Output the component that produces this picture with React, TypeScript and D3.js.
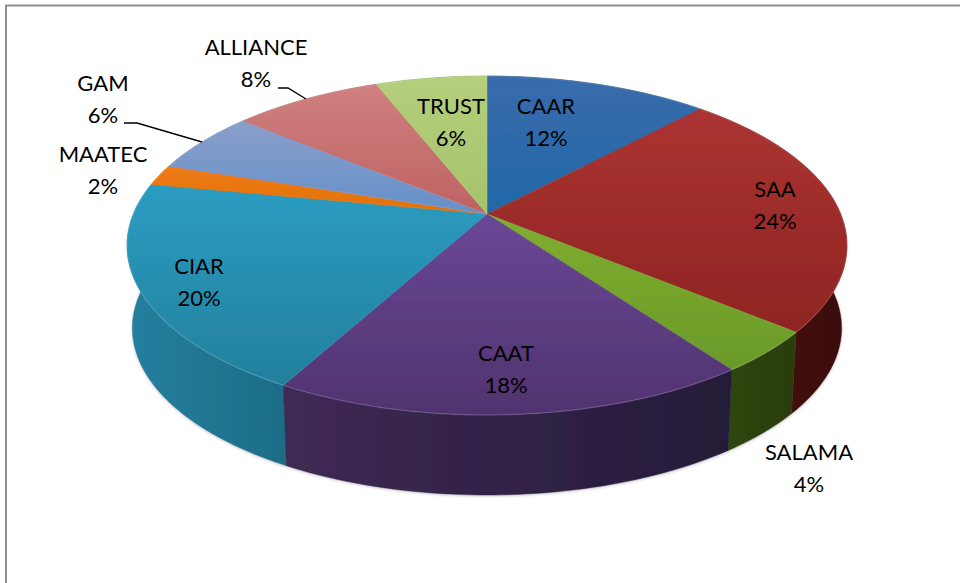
import React from "react";
import * as d3 from "d3";

const names = ["CAAR", "SAA", "SALAMA", "CAAT", "CIAR", "MAATEC", "GAM", "ALLIANCE", "TRUST"];
const shares = [12, 24, 4, 18, 20, 2, 6, 8, 6];
const topLight = ["#3a6cab", "#ab3431", "#7fae30", "#6b4796", "#2b9cc2", "#f07c12", "#8a9fcb", "#d08080", "#b5cf7c"];
const topDark = ["#2068a8", "#8e2422", "#6a9a28", "#50336f", "#23809c", "#e07010", "#6490c8", "#be6262", "#a5c36b"];
const wallLight = ["#1f4a78", "#4e110d", "#2f4610", "#3f2a55", "#24809f", "#b05a0c", "#4d6c9c", "#8c4242", "#7a9244"];
const wallDark = ["#163a60", "#3c0b08", "#2a3c0e", "#241a38", "#1d6c86", "#8a4608", "#3c567e", "#6e3232", "#5e7434"];

const labelSpots: Record<string, [number, number]> = {
  CAAR: [546, 106], SAA: [775, 189], SALAMA: [809, 452], CAAT: [506, 353], CIAR: [199, 266],
  MAATEC: [103, 154], GAM: [103, 83], ALLIANCE: [256, 47], TRUST: [451, 106],
};
const leaders: [number, number][][] = [
  [[278, 88], [288, 88], [306, 99]],
  [[124, 123], [137, 123], [202, 142]],
];

// Perspective projection of the unit disc onto the page
const cx = 487, cy = 214, A = 353.7, B = 163.6, K = 0.186;
const project = (theta: number, r = 1, dy = 0, s = 1): [number, number] => {
  const u = r * Math.sin(theta), v = -r * Math.cos(theta), w = 1 - K * v;
  return [cx + (s * A * u) / w, cy + dy + (s * B * v) / w];
};
const depth = 83, baseScale = 0.985;

const pieGen = d3.pie<number>().sort(null).startAngle(0).endAngle(2 * Math.PI);
const arcs = pieGen(shares);
const line = d3.line();
const sample = (a: number, b: number) => {
  const n = Math.max(4, Math.ceil((b - a) * 60));
  return d3.range(n + 1).map((i) => a + ((b - a) * i) / n);
};

export default function App() {
  const walls = arcs
    .map((d, i) => ({ d, i, y: Math.cos((d.startAngle + d.endAngle) / 2) }))
    .sort((p, q) => q.y - p.y);
  return (
    <svg width={960} height={583} style={{ position: "absolute", left: 0, top: 0, background: "#fff" }}>
      <defs>
        {names.map((n, i) => (
          <linearGradient key={n} id={`top${i}`} x1={0} x2={0} y1={0} y2={1}>
            <stop offset="0" stopColor={topLight[i]} />
            <stop offset="1" stopColor={topDark[i]} />
          </linearGradient>
        ))}
        {names.map((n, i) => (
          <linearGradient key={n} id={`wall${i}`} x1={0} x2={1} y1={0} y2={0}>
            <stop offset="0" stopColor={wallLight[i]} />
            <stop offset="1" stopColor={wallDark[i]} />
          </linearGradient>
        ))}
        <filter id="soft" x="-5%" y="-5%" width="110%" height="110%">
          <feGaussianBlur stdDeviation="0.7" />
        </filter>
        <filter id="shadow" x="-5%" y="-5%" width="110%" height="115%">
          <feGaussianBlur stdDeviation="1.6" />
        </filter>
      </defs>
      <path d="M6 583V5.5H960" fill="none" stroke="#8f8f8f" strokeWidth={2} />
      <path
        d={line(sample(0, 2 * Math.PI).map((t) => project(t, 1, depth + 1, baseScale)))! + "Z"}
        fill="#5a5060"
        opacity={0.4}
        filter="url(#shadow)"
      />
      <g filter="url(#soft)">
        {walls.map(({ d, i }) => {
          const ts = sample(d.startAngle, d.endAngle);
          const pts = [
            ...ts.map((t) => project(t)),
            ...ts.slice().reverse().map((t) => project(t, 1, depth, baseScale)),
          ];
          return <path key={i} d={line(pts)! + "Z"} fill={`url(#wall${i})`} stroke={wallDark[i]} strokeWidth={0.4} />;
        })}
        {arcs.map((d, i) => {
          const pts = [project(0, 0), ...sample(d.startAngle, d.endAngle).map((t) => project(t))];
          return <path key={i} d={line(pts)! + "Z"} fill={`url(#top${i})`} stroke={topLight[i]} strokeWidth={0.5} />;
        })}
        {arcs.map((d, i) => (
          <path
            key={i}
            d={line(sample(d.startAngle, d.endAngle).map((t) => project(t)))!}
            fill="none"
            stroke="#fff"
            strokeOpacity={0.1}
            strokeWidth={1.5}
          />
        ))}
      </g>
      {leaders.map((p, i) => (
        <path key={i} d={line(p)!} fill="none" stroke="#000" strokeWidth={1.4} />
      ))}
      <g fontFamily="Lato, 'Open Sans', sans-serif" fontSize={22} fill="#000" textAnchor="middle">
        {names.map((n, i) => {
          const [x, y] = labelSpots[n];
          return (
            <text key={n} x={x} y={y + 8}>
              <tspan x={x}>{n}</tspan>
              <tspan x={x} dy={32}>{d3.format("d")(shares[i])}%</tspan>
            </text>
          );
        })}
      </g>
    </svg>
  );
}
